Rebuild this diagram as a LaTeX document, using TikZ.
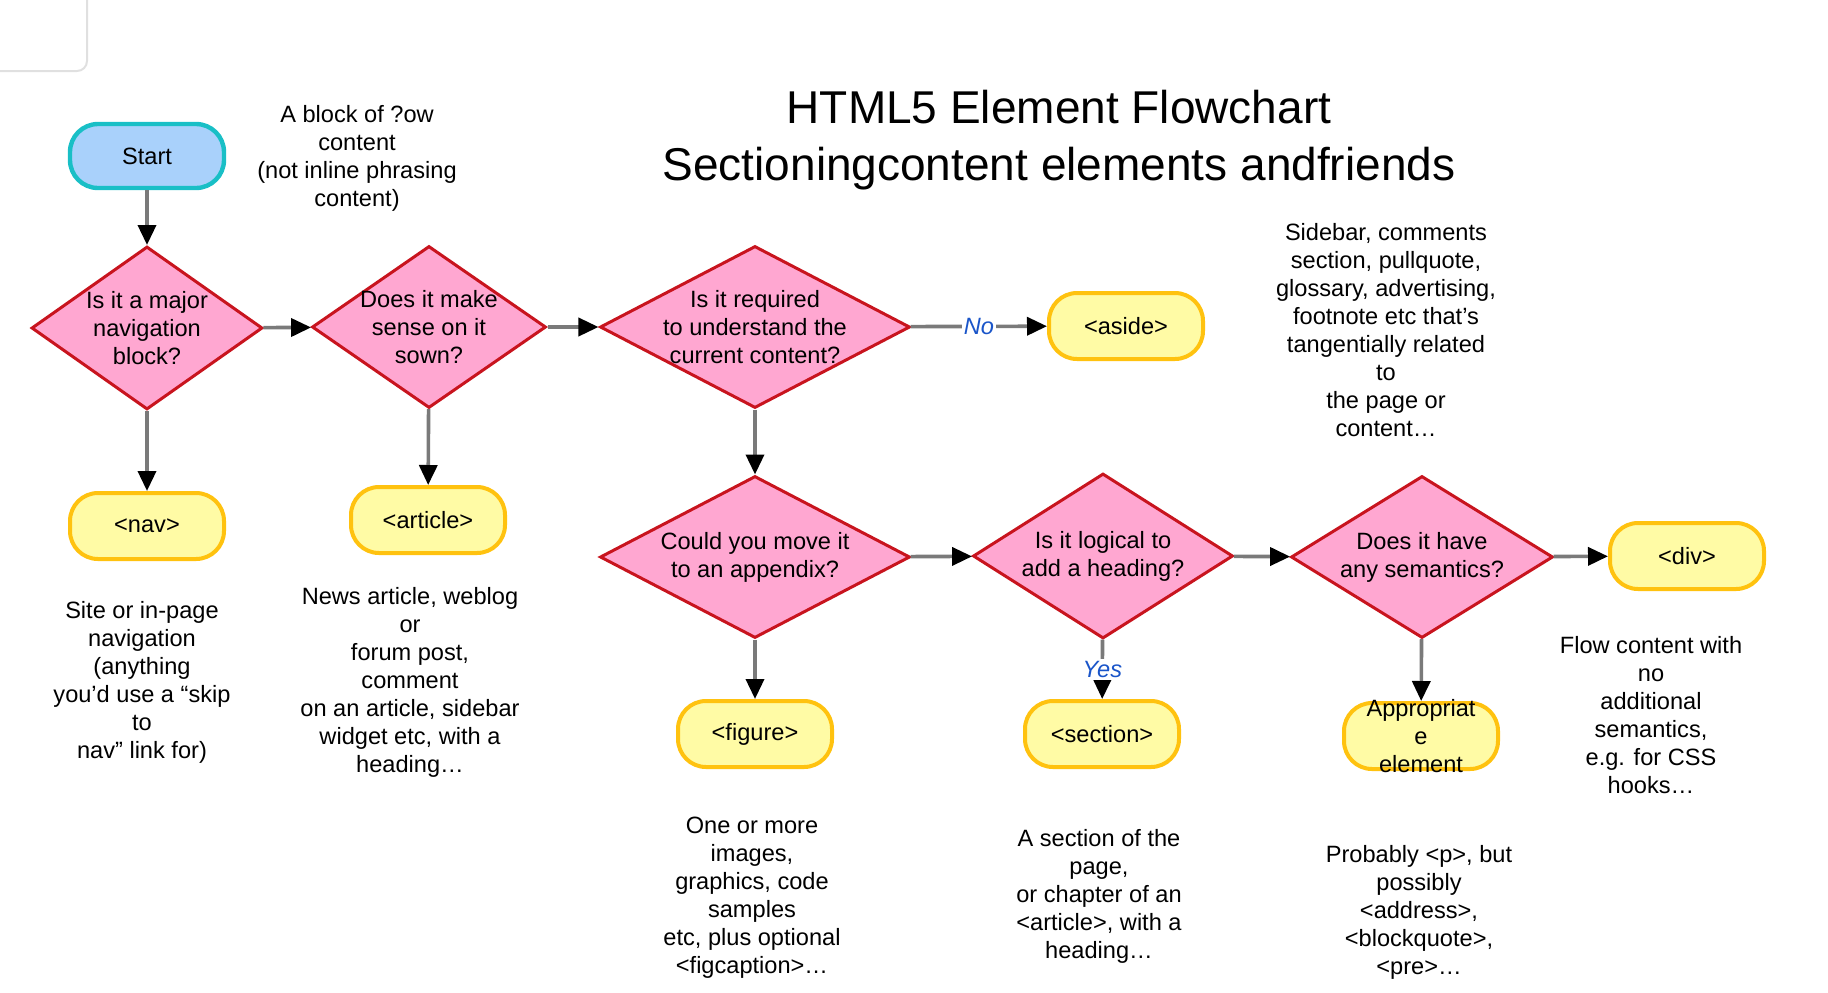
\documentclass[tikz,border=0pt]{standalone}
\usepackage{fontspec}
\setmainfont{Liberation Sans}
\usetikzlibrary{shapes.geometric,arrows.meta}
\definecolor{startfill}{HTML}{A9D1FB}
\definecolor{startline}{HTML}{19BFC6}
\definecolor{qfill}{HTML}{FFA7D1}
\definecolor{qline}{HTML}{C8141E}
\definecolor{efill}{HTML}{FFFBA5}
\definecolor{eline}{HTML}{FFC20F}
\definecolor{flowline}{HTML}{7A7A7A}
\definecolor{answer}{HTML}{1A55C9}
\begin{document}
\begin{tikzpicture}[x=.5pt,y=-.5pt,
  every node/.style={font=\fontsize{11.8}{14}\selectfont, align=center},
  start/.style={draw=startline, fill=startfill, line width=2.2pt, rounded corners=14pt, minimum width=77pt, minimum height=32pt},
  elem/.style={draw=eline, fill=efill, line width=2pt, rounded corners=14pt, minimum width=77pt, minimum height=33pt},
  quest/.style={diamond, draw=qline, fill=qfill, line width=1.5pt, inner sep=0pt},
  flow/.style={draw=flowline, line width=1.8pt, -{Triangle[length=10pt,width=9pt,color=black]}},
  answ/.style={fill=white, text=answer, font=\fontsize{11.8}{14}\selectfont\itshape, inner sep=1pt}]
\useasboundingbox (0,0) rectangle (1828,992);
\draw [black!12, line width=1pt, rounded corners=5pt] (-20,-20) rectangle (87,71);
\node [font=\fontsize{23}{28.5}\selectfont] (title) at (1059,140) {HTML5 Element Flowchart\\Sectioningcontent elements andfriends};

\node [start] (start) at (147,156) {Start};
\node (flownote) at (357,158) {A block of ?ow\\content\\(not inline phrasing\\content)};

% first row of questions
\node [quest, minimum width=115.5pt, minimum height=81.5pt] (q1) at (147,328) {};
\node (q1txt) at (q1) {Is it a major\\navigation\\block?};
\node [quest, minimum width=117pt, minimum height=81pt] (q2) at (429,327) {};
\node (q2txt) at (q2) {Does it make\\sense on it\\sown?};
\node [quest, minimum width=155pt, minimum height=81pt] (q3) at (755,327) {};
\node (q3txt) at (q3) {Is it required\\to understand the\\current content?};
\node [elem] (aside) at (1126,326) {<aside>};
\node (asidetxt) at (1386,330) {Sidebar, comments\\section, pullquote,\\glossary, advertising,\\footnote etc that’s\\tangentially related\\to\\the page or\\content…};

\node [elem] (nav) at (147,526) {<nav>};
\node [elem] (article) at (428,520) {<article>};
\node (navtxt) at (142,682) {Site or in-page\\navigation\\(anything\\you’d use a “skip\\to\\nav” link for)};
\node (articletxt) at (410,682) {News article, weblog\\or\\forum post,\\comment\\on an article, sidebar\\widget etc, with a\\heading…};

% second row of questions
\node [quest, minimum width=155pt, minimum height=81pt] (q4) at (755,557) {};
\node (q4txt) at (q4) {Could you move it\\to an appendix?};
\node [quest, minimum width=130pt, minimum height=82.5pt] (q5) at (1103,556) {};
\node (q5txt) at (q5) {Is it logical to\\add a heading?};
\node [quest, minimum width=131pt, minimum height=81pt] (q6) at (1422,557) {};
\node (q6txt) at (q6) {Does it have\\any semantics?};
\node [elem] (div) at (1687,556) {<div>};
\node (divtxt) at (1651,715) {Flow content with\\no\\additional\\semantics,\\e.g. for CSS\\hooks…};

\node [elem] (figure) at (755,734) {<figure>};
\node [elem] (section) at (1102,734) {<section>};
\node [elem] (appr) at (1421,736) {};
\node (apprtxt) at (appr) {Appropriat\\e\\element};
\node (figuretxt) at (752,898) {One or more\\images,\\graphics, code\\samples\\etc, plus optional\\<figcaption>…};
\node (sectiontxt) at (1099,896) {A section of the\\page,\\or chapter of an\\<article>, with a\\heading…};
\node (apprnote) at (1419,912) {Probably <p>, but\\possibly\\<address>,\\<blockquote>,\\<pre>…};

\draw [flow] (start) -- (q1);
\draw [flow] (q1) -- (nav);
\draw [flow] (q1) -- (q2);
\draw [flow] (q2) -- (article);
\draw [flow] (q2) -- (q3);
\draw [flow] (q3) -- node[answ] (no) {No} (aside);
\draw [flow] (q3) -- (q4);
\draw [flow] (q4) -- (figure);
\draw [flow] (q4) -- (q5);
\draw [flow] (q5) -- node[answ] (yes) {Yes} (section);
\draw [flow] (q5) -- (q6);
\draw [flow] (q6) -- (appr);
\draw [flow] (q6) -- (div);
\end{tikzpicture}
\end{document}
